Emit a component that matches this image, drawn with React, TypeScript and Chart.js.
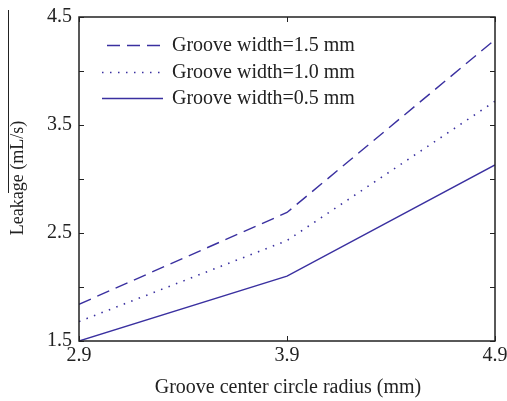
import React, { useEffect, useRef } from "react";
import { Chart, registerables } from "chart.js";

Chart.register(...registerables);

const X_VALUES = [2.9, 3.9, 4.9];
const SERIES_LABELS = ["Groove width=1.5 mm", "Groove width=1.0 mm", "Groove width=0.5 mm"];
const W15 = [1.84, 2.69, 4.29];
const W10 = [1.68, 2.43, 3.72];
const W05 = [1.5, 2.1, 3.13];
const X_TICKS = [2.9, 3.9, 4.9];
const Y_TICKS = [1.5, 2.0, 2.5, 3.0, 3.5, 4.0, 4.5];
const Y_LABELED = [1.5, 2.5, 3.5, 4.5];
const X_TITLE = "Groove center circle radius (mm)";
const Y_TITLE = "Leakage (mL/s)";

const LINE = "#3a30a0";
const INK = "#222222";
const FONT = "Liberation Serif";

const decor = {
  id: "decor",
  afterDatasetsDraw(chart: any) {
    const { ctx, chartArea: a, scales } = chart;
    const xs = scales.x;
    const ys = scales.y;
    ctx.save();
    // frame
    ctx.strokeStyle = INK;
    ctx.lineWidth = 1.5;
    ctx.strokeRect(a.left, a.top, a.right - a.left, a.bottom - a.top);
    // ticks inward
    ctx.lineWidth = 1;
    const tl = 5;
    ctx.beginPath();
    for (const v of Y_TICKS) {
      const y = Math.round(ys.getPixelForValue(v)) + 0.5;
      ctx.moveTo(a.left, y);
      ctx.lineTo(a.left + tl, y);
      ctx.moveTo(a.right, y);
      ctx.lineTo(a.right - tl, y);
    }
    for (const v of X_TICKS) {
      const x = Math.round(xs.getPixelForValue(v)) + 0.5;
      ctx.moveTo(x, a.bottom);
      ctx.lineTo(x, a.bottom - tl);
      ctx.moveTo(x, a.top);
      ctx.lineTo(x, a.top + tl);
    }
    ctx.stroke();

    // legend
    ctx.font = `20px "${FONT}"`;
    ctx.textBaseline = "middle";
    ctx.textAlign = "left";
    const rows = [45, 72, 98];
    const starts = [107, 102, 102];
    chart.data.datasets.forEach((ds: any, i: number) => {
      const y = rows[i] + 0.5;
      ctx.strokeStyle = ds.borderColor;
      ctx.lineWidth = ds.borderWidth;
      ctx.setLineDash(ds.borderDash || []);
      ctx.beginPath();
      ctx.moveTo(starts[i], y);
      ctx.lineTo(163, y);
      ctx.stroke();
      ctx.setLineDash([]);
      ctx.fillStyle = INK;
      ctx.fillText(ds.label, 172, rows[i] + 1);
    });

    // axis titles
    ctx.fillStyle = INK;
    ctx.textAlign = "center";
    ctx.fillText(X_TITLE, 288, 388);
    ctx.save();
    ctx.font = `18px "${FONT}"`;
    ctx.translate(18, 178);
    ctx.rotate(-Math.PI / 2);
    ctx.fillText(Y_TITLE, 0, 0);
    ctx.restore();

    // stray edge line from the source scan
    ctx.strokeStyle = INK;
    ctx.lineWidth = 1;
    ctx.beginPath();
    ctx.moveTo(8.5, 10);
    ctx.lineTo(8.5, 193);
    ctx.stroke();
    ctx.restore();
  },
};

export default function App() {
  const ref = useRef<HTMLCanvasElement | null>(null);
  useEffect(() => {
    if (!ref.current) return;
    const mk = (vals: number[]) => X_VALUES.map((x, i) => ({ x, y: vals[i] }));
    const chart = new Chart(ref.current, {
      type: "line",
      data: {
        datasets: [
          { label: SERIES_LABELS[0], data: mk(W15), borderColor: LINE, borderWidth: 1.4, borderDash: [13, 7], pointRadius: 0, tension: 0 },
          { label: SERIES_LABELS[1], data: mk(W10), borderColor: LINE, borderWidth: 1.6, borderDash: [1.5, 6.5], pointRadius: 0, tension: 0 },
          { label: SERIES_LABELS[2], data: mk(W05), borderColor: LINE, borderWidth: 1.4, pointRadius: 0, tension: 0 },
        ],
      },
      options: {
        animation: false,
        responsive: false,
        maintainAspectRatio: false,
        layout: { padding: { top: 17, right: 12, left: 0, bottom: 0 } },
        plugins: { legend: { display: false }, tooltip: { enabled: false } },
        scales: {
          x: {
            type: "linear",
            min: 2.9,
            max: 4.9,
            afterBuildTicks: (s: any) => { s.ticks = X_TICKS.map((v) => ({ value: v })); },
            afterFit: (s: any) => { s.height = 60; s.paddingLeft = 0; s.paddingRight = 0; },
            grid: { display: false, drawTicks: false },
            border: { display: false },
            ticks: {
              padding: 3,
              maxRotation: 0,
              autoSkip: false,
              color: INK,
              font: { family: FONT, size: 20 },
              callback: (v: any) => Number(v).toFixed(1),
            },
          },
          y: {
            type: "linear",
            min: 1.5,
            max: 4.5,
            afterBuildTicks: (s: any) => { s.ticks = Y_TICKS.map((v) => ({ value: v })); },
            afterFit: (s: any) => { s.width = 79; s.paddingTop = 0; s.paddingBottom = 0; },
            grid: { display: false, drawTicks: false },
            border: { display: false },
            ticks: {
              padding: 7,
              autoSkip: false,
              color: INK,
              font: { family: FONT, size: 20 },
              callback: (v: any) => (Y_LABELED.some((t) => Math.abs(t - Number(v)) < 1e-6) ? Number(v).toFixed(1) : ""),
            },
          },
        },
      },
      plugins: [decor],
    });
    return () => chart.destroy();
  }, []);
  return (
    <div style={{ position: "fixed", left: 0, top: 0, width: 507, height: 401, background: "#fff" }}>
      <canvas ref={ref} width={507} height={401} style={{ display: "block" }} />
    </div>
  );
}
